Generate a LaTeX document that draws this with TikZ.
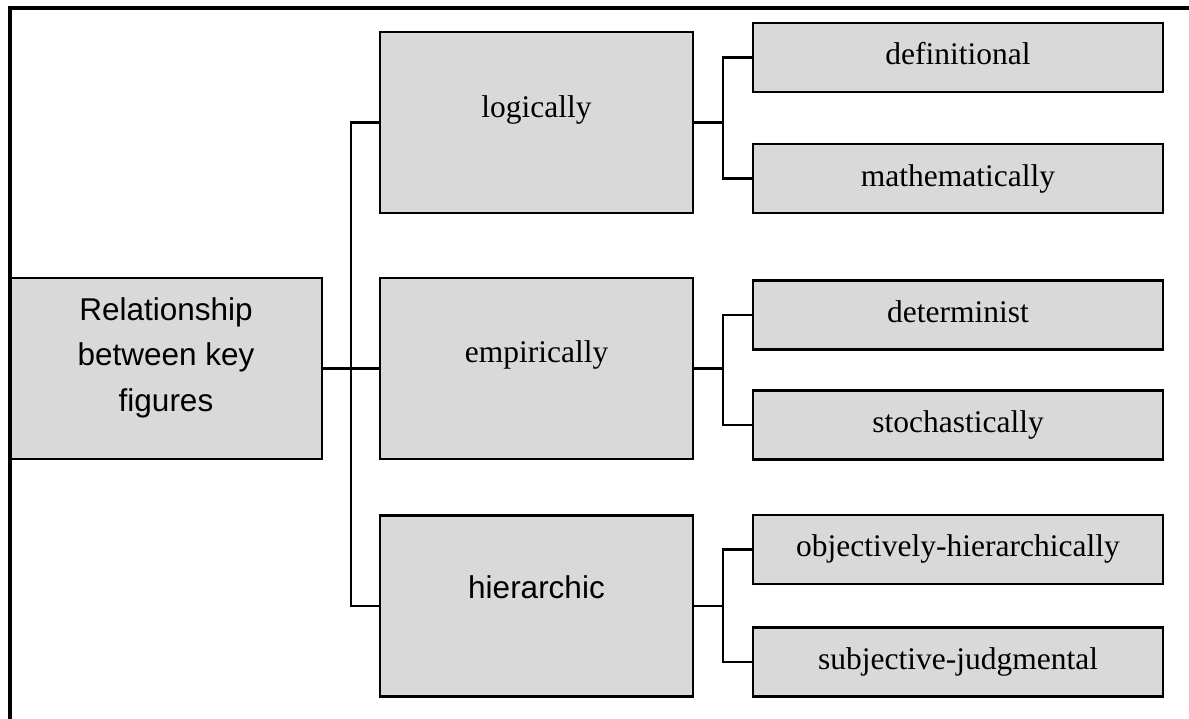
\documentclass[tikz,border=0pt]{standalone}
\usepackage{fontspec}
\setmainfont{Liberation Serif}
\newfontfamily\arialfont{Liberation Sans}
\definecolor{boxgray}{HTML}{D9D9D9}
\begin{document}
\begin{tikzpicture}[x=1pt,y=-1pt,
  box/.style={draw=black, line width=2.3pt, fill=boxgray, inner sep=0pt},
  big/.style={box, minimum width=313pt, minimum height=181pt},
  leaf/.style={box, minimum width=410pt, minimum height=69pt},
  conn/.style={line width=2.3pt},
  serif/.style={font=\fontsize{31.5}{38}\selectfont, inner sep=0pt},
  sans/.style={font=\arialfont\fontsize{31.5}{45.5}\selectfont, inner sep=0pt}]
\useasboundingbox (0,0) rectangle (1189,718);
\clip (0,0) rectangle (1189,718);

% root and first level
\node[big, minimum width=312pt] (root) at (166,368.5) {};
\node[big] (logic) at (536.5,122.5) {};
\node[big] (emp)   at (536.5,368.5) {};
\node[big] (hier)  at (536.5,606) {};

% second level
\node[leaf] (def)  at (958,57.5) {};
\node[leaf] (math) at (958,178.5) {};
\node[leaf] (det)  at (958,315) {};
\node[leaf] (sto)  at (958,425) {};
\node[leaf] (obj)  at (958,549.5) {};
\node[leaf] (subj) at (958,662) {};

% labels
\node[sans, align=center] (root-t) at (166,357.5) {Relationship\\between key\\figures};
\node[serif, anchor=base] (logic-t) at (536.5,117) {logically};
\node[serif, anchor=base] (emp-t)   at (536.5,362.7) {empirically};
\node[sans,  anchor=base] (hier-t)  at (536.5,598) {hierarchic};
\node[serif, anchor=base] (def-t)  at (958,64.5) {definitional};
\node[serif, anchor=base] (math-t) at (958,186) {mathematically};
\node[serif, anchor=base] (det-t)  at (958,322) {determinist};
\node[serif, anchor=base] (sto-t)  at (958,432) {stochastically};
\node[serif, anchor=base] (obj-t)  at (958,556.5) {objectively-hierarchically};
\node[serif, anchor=base] (subj-t) at (958,669) {subjective-judgmental};

% bracket connectors
\coordinate (b1) at (351,0);
\coordinate (b2) at (723,0);
\draw[conn] (root.east) -- (root.east -| b1);
\draw[conn] (logic.west) -- (logic.west -| b1) -- (hier.west -| b1) -- (hier.west);
\draw[conn] (emp.west -| b1) -- (emp.west);

\draw[conn] (logic.east) -- (logic.east -| b2);
\draw[conn] (def.west) -- (def.west -| b2) -- (math.west -| b2) -- (math.west);
\draw[conn] (emp.east) -- (emp.east -| b2);
\draw[conn] (det.west) -- (det.west -| b2) -- (sto.west -| b2) -- (sto.west);
\draw[conn] (hier.east) -- (hier.east -| b2);
\draw[conn] (obj.west) -- (obj.west -| b2) -- (subj.west -| b2) -- (subj.west);

% outer frame, open to the right and bottom
\draw[line width=3.8pt] (10,740) -- (10,8) -- (1210,8);
\end{tikzpicture}
\end{document}
